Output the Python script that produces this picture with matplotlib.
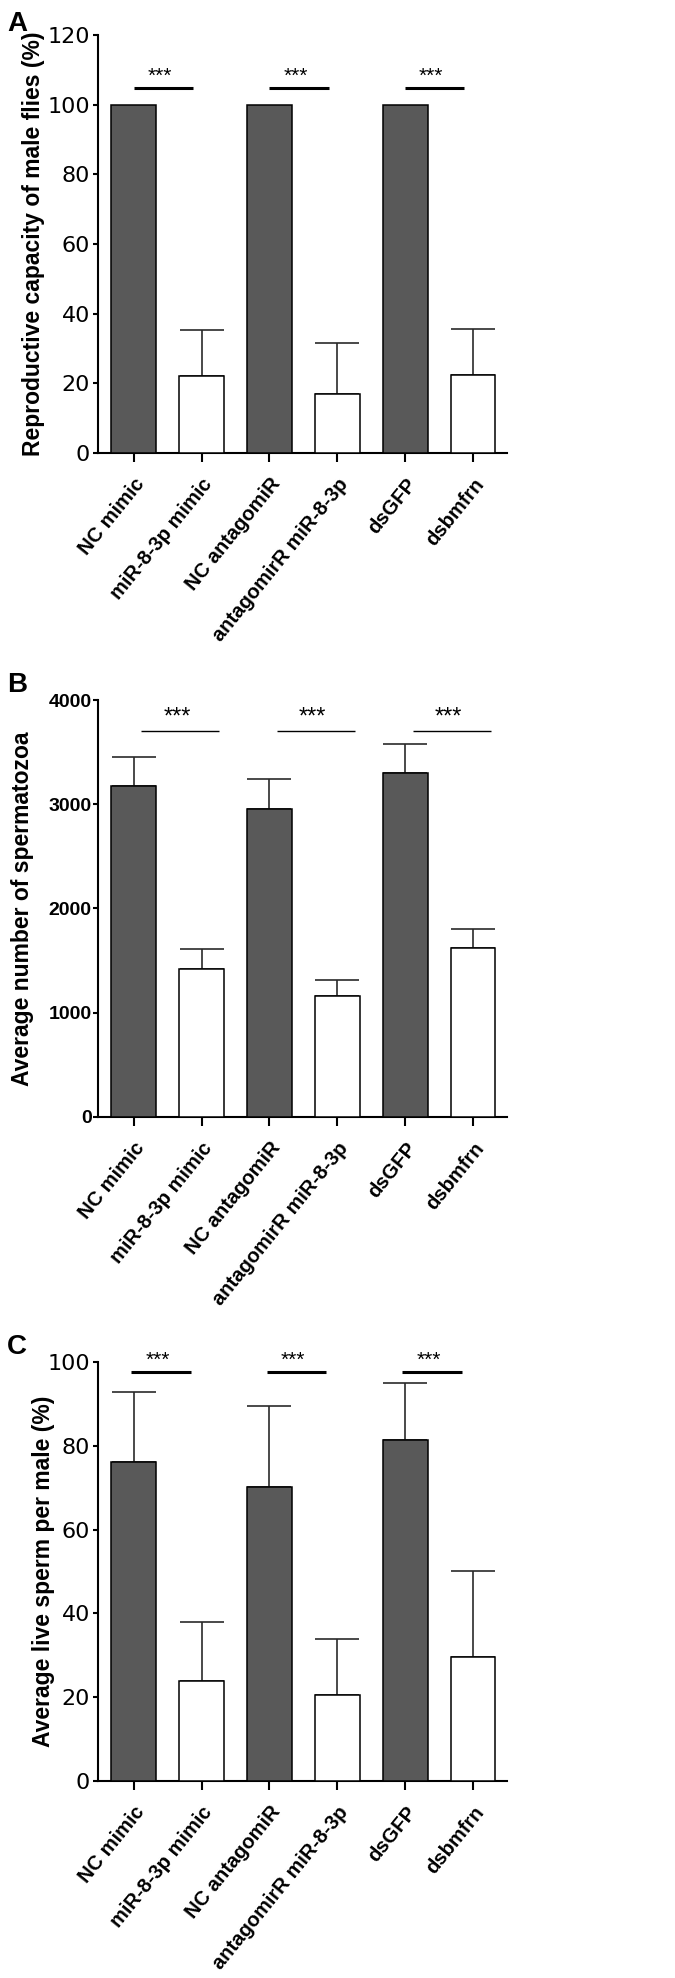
import matplotlib
matplotlib.use('Agg')
import matplotlib.pyplot as plt

labels = ['NC mimic', 'miR-8-3p mimic', 'NC antagomiR',
          'antagomirR miR-8-3p', 'dsGFP', 'dsbmfrn']

repro_mean = [100, 22.0, 100, 16.8, 100, 22.4]
repro_err = [0, 13.2, 0, 14.7, 0, 13.2]

sperm_mean = [3174, 1424, 2954, 1162, 3296, 1622]
sperm_err = [276, 186, 288, 150, 278, 186]

live_mean = [76.2, 23.8, 70.2, 20.5, 81.3, 29.5]
live_err = [16.6, 14.2, 19.3, 13.5, 13.8, 20.7]

sig_label = '***'

dark = '#595959'
narrow = ['Liberation Sans Narrow', 'DejaVu Sans']
plt.rcParams['font.family'] = ['Liberation Sans', 'DejaVu Sans']


def draw_panel(ax, means, errs, ylabel, ymax, ystep, sig_y, sig_span,
               sig_lw, star_size, bold_ticks, label_x):
    x = list(range(len(means)))
    colors = [dark if i % 2 == 0 else 'white' for i in x]
    ax.bar(x, means, width=0.66, color=colors, edgecolor='black',
           linewidth=1.1, zorder=3)
    for i in x:
        if errs[i] > 0:
            ax.errorbar(i, means[i], yerr=[[0], [errs[i]]], fmt='none',
                        ecolor='#2a2a2a', elinewidth=1.2, capsize=16,
                        capthick=1.2, zorder=2)

    # significance bars over each pair
    for p in range(0, len(means), 2):
        x0, x1 = p + sig_span[0], p + sig_span[1]
        ax.plot([x0, x1], [sig_y, sig_y], color='black', lw=sig_lw,
                solid_capstyle='butt', zorder=4)
        ax.text((x0 + x1) / 2 - 0.05, sig_y + ymax * 0.006, sig_label,
                ha='center', va='bottom', fontsize=star_size)

    ax.set_xlim(-0.53, 5.5)
    ax.set_ylim(0, ymax)
    ax.set_yticks(range(0, ymax + 1, ystep))
    ax.set_xticks(x)
    ax.set_xticklabels(labels, rotation=51, ha='right',
                       rotation_mode='anchor', fontsize=14.5,
                       fontweight='bold')
    for t in ax.get_yticklabels():
        if bold_ticks:
            # no narrow bold face here, so a smaller regular-width bold
            t.set_fontsize(14)
            t.set_fontweight('bold')
        else:
            t.set_family(narrow)
            t.set_fontsize(16)
    ax.set_ylabel(ylabel, fontsize=16.5, fontweight='bold')
    ax.yaxis.set_label_coords(label_x, 0.5)

    for s in ['top', 'right']:
        ax.spines[s].set_visible(False)
    for s in ['left', 'bottom']:
        ax.spines[s].set_linewidth(1.5)
    ax.tick_params(axis='x', length=6.5, width=1.5, pad=9)
    ax.tick_params(axis='y', length=3.5, width=1.5,
                   pad=1 if bold_ticks else 2)


fig = plt.figure(figsize=(6.75, 19.78), dpi=100)

ax_a = fig.add_axes([0.145, 0.771, 0.606, 0.2113])
draw_panel(ax_a, repro_mean, repro_err,
           'Reproductive capacity of male flies (%)', 120, 20,
           104.7, (0.0, 0.87), 2.2, 15, False, -0.13)

ax_b = fig.add_axes([0.145, 0.4353, 0.606, 0.2108])
draw_panel(ax_b, sperm_mean, sperm_err,
           'Average number of spermatozoa', 4000, 1000,
           3706, (0.11, 1.26), 1.0, 17, True, -0.157)

ax_c = fig.add_axes([0.145, 0.0996, 0.606, 0.2118])
draw_panel(ax_c, live_mean, live_err,
           'Average live sperm per male (%)', 100, 20,
           97.6, (-0.04, 0.84), 2.2, 15, False, -0.105)

for letter, ypix in [('A', 24), ('B', 685), ('C', 1347)]:
    fig.text(17 / 675, 1 - ypix / 1978, letter, fontsize=20,
             fontweight='bold', ha='center', va='center')

fig.savefig('out.png', dpi=100)
